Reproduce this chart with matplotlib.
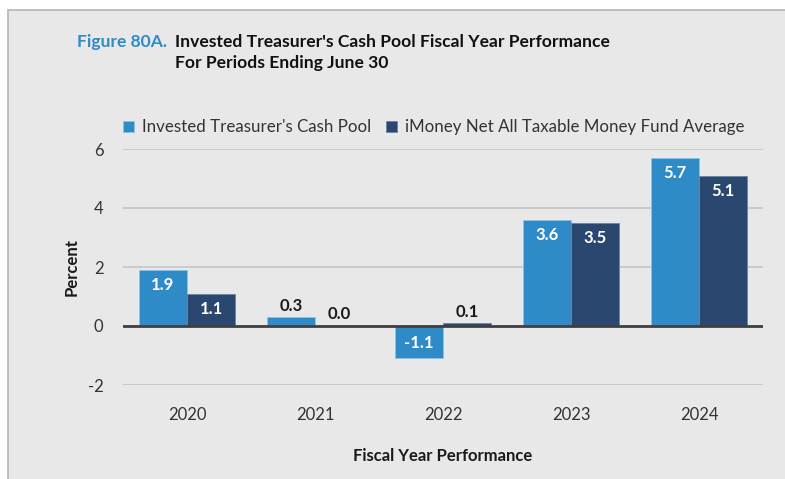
import numpy as np
import matplotlib.pyplot as plt
from matplotlib.patches import Rectangle

plt.rcParams['font.family'] = ['Lato', 'DejaVu Sans']
plt.rcParams['axes.unicode_minus'] = False

years = ['2020', '2021', '2022', '2023', '2024']
cash_pool = [1.9, 0.3, -1.1, 3.6, 5.7]
imoney_avg = [1.1, 0.0, 0.1, 3.5, 5.1]
series_names = ["Invested Treasurer's Cash Pool",
                "iMoney Net All Taxable Money Fund Average"]

light_blue = '#2e8bc8'
dark_blue = '#2a4770'
bg = '#e8e8e8'

fig = plt.figure(figsize=(7.85, 4.79), dpi=100)
fig.patch.set_facecolor('white')
# panel background with a thin grey frame on the left and top
fig.add_artist(Rectangle((8 / 785, -0.01), 1.0, 1 - 10 / 479 + 0.01,
                         transform=fig.transFigure, facecolor=bg,
                         edgecolor='#b5b5b5', linewidth=1.2, zorder=0))

ax = fig.add_axes([123 / 785, 1 - 385 / 479, 640 / 785, 236 / 479])
ax.set_facecolor(bg)

x = np.arange(len(years))
w = 0.375
b1 = ax.bar(x - w / 2, cash_pool, w, color=light_blue, edgecolor='#8ec3e6',
            linewidth=0.6, label=series_names[0], zorder=3)
b2 = ax.bar(x + w / 2, imoney_avg, w, color=dark_blue, edgecolor='#6b84a6',
            linewidth=0.6, label=series_names[1], zorder=3)

# value labels: white inside tall bars, dark above short ones
for bars, vals in ((b1, cash_pool), (b2, imoney_avg)):
    for bar, v in zip(bars, vals):
        cx = bar.get_x() + bar.get_width() / 2
        if v >= 1:
            ax.text(cx, v - 0.25, f'{v:.1f}', ha='center', va='top',
                    color='white', fontsize=12, fontweight='bold', zorder=4)
        elif v <= -1:
            ax.text(cx, v + 0.25, f'{v:.1f}', ha='center', va='bottom',
                    color='white', fontsize=12, fontweight='bold', zorder=4)
        else:
            ax.text(cx, max(v, 0) + 0.12, f'{v:.1f}', ha='center', va='bottom',
                    color='#1a1a1a', fontsize=12, fontweight='bold', zorder=4)

ax.set_ylim(-2, 6)
ax.set_xlim(-0.5, len(years) - 0.5)
ax.set_yticks([-2, 0, 2, 4, 6])
ax.set_xticks(x)
ax.set_xticklabels(years)
ax.tick_params(length=0, labelsize=12, colors='#333333')
ax.tick_params(axis='x', pad=16)
ax.tick_params(axis='y', pad=14)
ax.grid(axis='y', color='#c6c6c6', linewidth=1.2, zorder=0)
ax.axhline(0, color='#3f3f3f', linewidth=2, zorder=5)
for s in ax.spines.values():
    s.set_visible(False)

ax.set_ylabel('Percent', fontsize=12, fontweight='bold', color='#1a1a1a',
              labelpad=6)
ax.set_xlabel('Fiscal Year Performance', fontsize=12, fontweight='bold',
              color='#1a1a1a', labelpad=18)

ax.legend(loc='lower left', bbox_to_anchor=(-0.01, 1.03), ncol=2, frameon=False,
          fontsize=12.2, handlelength=0.6, handleheight=0.6, handletextpad=0.5,
          columnspacing=0.9, labelcolor='#333333', borderaxespad=0)

fig.text(77 / 785, 1 - 42 / 479, 'Figure 80A.', color=light_blue, fontsize=12.6,
         fontweight='bold', va='center')
fig.text(175 / 785, 1 - 42 / 479, "Invested Treasurer's Cash Pool Fiscal Year Performance",
         color='#111111', fontsize=12.6, fontweight='bold', va='center')
fig.text(175 / 785, 1 - 63 / 479, 'For Periods Ending June 30',
         color='#111111', fontsize=12.6, fontweight='bold', va='center')

fig.savefig('out.png', dpi=100)
